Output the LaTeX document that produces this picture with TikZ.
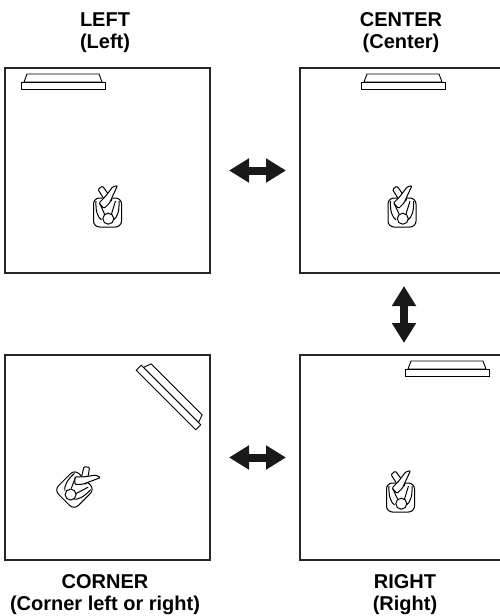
\documentclass[tikz,border=0pt]{standalone}
\usepackage{fontspec}
\setmainfont{Liberation Sans}
\usetikzlibrary{arrows.meta}

\tikzset{
  pics/speakerbar/.style={code={
    \draw[line width=0.9pt, fill=white] (-39,0) -- (-36,-8) -- (36,-8) -- (39,0) -- cycle;
    \draw[line width=0.9pt, fill=white] (-42,0) rectangle (42,7);
  }},
  pics/listener/.style={code={
    \draw[line width=1pt, rounded corners=6pt] (-14,-7) rectangle (14,22);
    \draw[line width=1pt, rounded corners=1.2pt, fill=white] (-9.5,-15.5) -- (-5,-19) -- (5,-5) -- (-1,-2) -- cycle;
    \draw[line width=1pt] (-11.5,-4) .. controls (-12,6) and (-10,12) .. (-6,15);
    \draw[line width=1pt] (11.5,-4) .. controls (12,6) and (10,12) .. (6,15);
    \draw[line width=1pt] (-8,-2) -- (-3,9);
    \draw[line width=1pt] (8,-4) -- (4,9);
    \draw[line width=1pt, rounded corners=1.2pt, fill=white] (5,-18) -- (10,-19.5) -- (2,-2) -- (-3.5,3.5) -- (-8.5,-2) -- (-2.5,-8) -- cycle;
    \draw[line width=1pt, fill=white] (0.8,13.7) circle (5.5);
  }},
}

\begin{document}
\begin{tikzpicture}[
  x=1pt, y=-1pt,
  room/.style={draw=black!85, line width=2.2pt, minimum width=205pt, minimum height=205pt, inner sep=0pt, outer sep=0pt},
  caption/.style={font=\bfseries\fontsize{20}{22}\selectfont, align=center},
  swap/.style={line width=8pt, black!90, {Triangle[length=20pt,width=23pt]}-{Triangle[length=20pt,width=23pt]}, shorten >=14pt, shorten <=19pt},
]
\useasboundingbox (0,0) rectangle (500,616);

\node[room] (leftroom) at (107.5,170.5) {};
\node[room] (centerroom) at (402.5,170.5) {};
\node[room] (cornerroom) at (107.5,457.5) {};
\node[room] (rightroom) at (402.5,457.5) {};

\node[caption] (lefttext) at (105,32.5) {LEFT\\(Left)};
\node[caption] (centertext) at (401,32.5) {CENTER\\(Center)};
\node[caption] (cornertext) at (105,595) {CORNER\\(Corner left or right)};
\node[caption] (righttext) at (405,595) {RIGHT\\(Right)};

\pic at (63,82) {speakerbar};
\pic at (403,82) {speakerbar};
\pic at (447,369) {speakerbar};
\pic[rotate=-45] at (171,395) {speakerbar};

\pic at (107.5,205) {listener};
\pic at (402,205) {listener};
\pic at (400.5,490) {listener};
\pic[rotate=-45] at (79.7,484.3) {listener};

\draw[swap] (leftroom.east) -- (centerroom.west);
\draw[swap] (cornerroom.east) -- (rightroom.west);
\draw[swap, shorten >=12pt, shorten <=13pt] ([xshift=1.5pt]centerroom.south) -- ([xshift=1.5pt]rightroom.north);
\end{tikzpicture}
\end{document}
